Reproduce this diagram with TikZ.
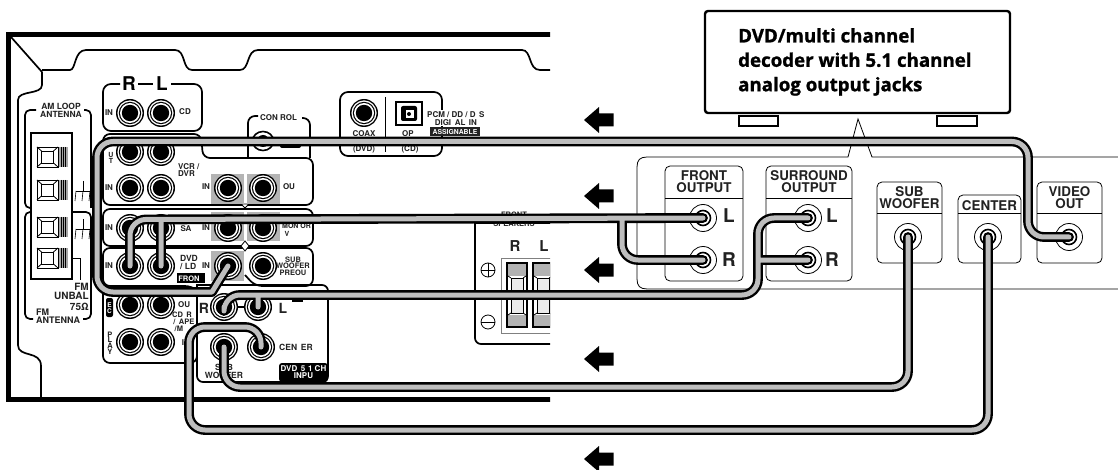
\documentclass[tikz,border=0pt]{standalone}
\usepackage{fontspec}
\setmainfont{TeX Gyre Heros}
\newfontfamily\titlefont[BoldFeatures={FakeBold=1.2}]{Open Sans}
\definecolor{cablegray}{HTML}{BEBEBE}
\definecolor{squaregray}{HTML}{B4B4B4}
\definecolor{labelgray}{HTML}{222222}
\tikzset{
 x=1pt,y=-1pt,
 panelline/.style={line width=1.7pt,black},
 thinline/.style={line width=.8pt,black},
 midline/.style={line width=1.1pt,black},
 lbl/.style={font=\bfseries\fontsize{8}{7.6}\selectfont,text=labelgray,inner sep=0pt,align=center},
 bigl/.style={font=\bfseries\fontsize{15}{15}\selectfont,text=labelgray,inner sep=0pt},
 outl/.style={font=\bfseries\fontsize{13.4}{12.2}\selectfont,text=labelgray,inner sep=0pt,align=center},
 invl/.style={font=\bfseries\fontsize{7.5}{7.5}\selectfont,text=white,inner sep=0pt,align=center},
 cableout/.style={line width=9.8pt,black,line cap=round,line join=round,rounded corners=16pt},
 cablein/.style={line width=5pt,cablegray,line cap=round,line join=round,rounded corners=16pt},
 arrowshape/.style={fill=black,draw=none},
}
% panel jack: name, x, y
\newcommand{\pjack}[3]{%
 \fill[black] (#2,#3) circle (14);
 \fill[white] (#2,#3) circle (12.6);
 \fill[black] (#2,#3) circle (11.2);
 \fill[white] (#2,#3) circle (10);
 \fill[black] (#2,#3) circle (8.2);
 \coordinate (#1) at (#2,#3);}
% source jack: name, x, y
\newcommand{\sjack}[3]{%
 \draw[thinline,fill=white] (#2,#3) circle (13.5);
 \draw[line width=1.6pt,black,fill=white] (#2,#3) circle (7.5);
 \fill[black] (#2,#3) circle (4);
 \coordinate (#1) at (#2,#3);}
\newcommand{\terminal}[2]{%
 \draw[thinline,fill=white] (#1,#2) rectangle (#1+21,#2+20);
 \draw[thinline,fill=white] (#1+4.5,#2+4) rectangle (#1+16.5,#2+16);
 \draw[thinline] (#1,#2)--(#1+4.5,#2+4) (#1+21,#2)--(#1+16.5,#2+4) (#1,#2+20)--(#1+4.5,#2+16) (#1+21,#2+20)--(#1+16.5,#2+16);
 \fill[gray!70] (#1+22,#2) rectangle (#1+31,#2+20);
 \foreach \sx in {24,26,28}{\draw[line width=.5pt,black] (#1+\sx,#2)--(#1+\sx,#2+20);}}
\newcommand{\ground}[2]{%
 \draw[line width=.6pt,black] (#1+7,#2-10)--(#1+7,#2) (#1,#2)--(#1+14,#2);
 \draw[line width=.6pt,black] (#1,#2)--(#1-1,#2+10) (#1+7,#2)--(#1+6,#2+10) (#1+14,#2)--(#1+13,#2+10);}
\newcommand{\flow}[1]{%
 \fill[arrowshape] (584,#1) -- (599,#1-13) -- (599,#1-6.5) -- (613.5,#1-6.5) -- (613.5,#1+6.5) -- (599,#1+6.5) -- (599,#1+13) -- cycle;}
\begin{document}
\begin{tikzpicture}
\useasboundingbox (0,0) rectangle (1118,470);
\fill[white] (0,0) rectangle (1118,470);

% ---------- receiver rear panel, cut off at x=550
\begin{scope}
\clip (0,0) rectangle (550,470);
\draw[line width=5.2pt,black] (560,34.6) -- (8.6,34.6) -- (8.6,399.4) -- (560,399.4);
\draw[panelline] (11,37) -- (42,72);
\draw[panelline] (42,70) -- (70,70) .. controls (76,70) and (74,50) .. (86,50) -- (175,50) .. controls (186,50) and (182,70) .. (192,70) -- (240,70) .. controls (250,70) and (246,50) .. (258,50) -- (522,50) .. controls (532,50) and (528,70) .. (540,70) -- (560,70);
\draw[panelline] (42,72) -- (42,85) .. controls (42,95) and (18,90) .. (18,100) -- (18,345) .. controls (18,358) and (41,350) .. (41,366) -- (41,398);

% antenna frames
\draw[panelline,rounded corners=5pt] (36,110) -- (25,110) -- (25,208) -- (36,208);
\draw[panelline,rounded corners=5pt] (84,110) -- (91,110) -- (91,208);
\draw[panelline,rounded corners=5pt] (33,319) -- (25,319) -- (25,212) -- (91,212) -- (91,319) -- (83,319);
\node[lbl,font=\bfseries\fontsize{8.5}{8}\selectfont] (amloop) at (61,110) {AM LOOP\\ANTENNA};
% antenna terminals
\draw[line width=1.5pt,black,fill=white] (31,133) rectangle (72,279);
\terminal{37}{147}
\terminal{37}{180}
\terminal{37}{217}
\terminal{37}{248}
\ground{76}{191}
\ground{76}{229}
\draw[thinline] (72,258) -- (80,258) -- (80,280);
\node[lbl,font=\bfseries\fontsize{10}{9.4}\selectfont,align=right,anchor=north east] (fmunbal) at (89,283) {FM\\UNBAL\\[1pt]75Ω};
\node[lbl,font=\bfseries\fontsize{9}{7.5}\selectfont,align=left,anchor=north west] (fmant) at (36,309) {FM\\ANTENNA};

% input boxes
\draw[panelline,rounded corners=8pt] (120,84) -- (103,84) -- (103,131) -- (202,131) -- (202,84) -- (171,84);
\draw[panelline] (138,84) -- (153,84);
\node[font=\bfseries\fontsize{19}{19}\selectfont,inner sep=0pt] (rtop) at (129,84) {R};
\node[font=\bfseries\fontsize{19}{19}\selectfont,inner sep=0pt] (ltop) at (162,84) {L};
\draw[panelline,rounded corners=7pt] (103,150) -- (103,134) -- (201,134) -- (203,158) -- (313,158) -- (313,205) -- (103,205) -- (103,150);
\draw[panelline,rounded corners=7pt] (248,158) -- (248,116) -- (258,116);
\draw[panelline,rounded corners=7pt] (302,118) -- (310,118) -- (310,158);
\node[lbl,anchor=west] (control) at (260,118) {CON ROL};
% control jack and bar, mostly under the video cable
\draw[line width=1.6pt,black,fill=white] (263,141) ellipse (10.5 and 9.5);
\fill[black] (263,141) circle (6);
\fill[black,rounded corners=2pt] (280,138) rectangle (301,148);
\draw[panelline,rounded corners=7pt] (103,228) -- (103,209) -- (313,209) -- (313,246) -- (103,246) -- cycle;
\draw[panelline,rounded corners=7pt,fill=white] (103,268) -- (103,248) -- (313,248) -- (313,286) -- (255,286) -- (245,275);
\draw[panelline,rounded corners=7pt] (103,268) -- (103,286) -- (192,286) -- (197,290);
\draw[thinline,fill=white] (245,241) -- (249,246) -- (245,251) -- (241,246) -- cycle;
\draw[thinline,fill=white] (245,208) -- (249,204) -- (241,204) -- cycle;
% gray squares
\fill[squaregray] (211,174) rectangle (244,204);
\fill[squaregray] (247,174) rectangle (280,204);
\fill[squaregray] (211,212) rectangle (244,241);
\fill[squaregray] (247,212) rectangle (280,241);
\fill[squaregray] (211,251) rectangle (244,281);

% digital box
\draw[panelline,rounded corners=8pt] (340,156) rectangle (442,92);
\draw[midline] (385.5,97) -- (385.5,152);
\pjack{jcoax}{364}{113}
\draw[line width=1.6pt,black,fill=white] (396,102) rectangle (422,125);
\fill[black,rounded corners=2pt] (401,106) rectangle (417,121);
\fill[white] (406,110) rectangle (414,118);
\fill[black] (409,114) circle (2);
\node[lbl,font=\bfseries\fontsize{8}{8}\selectfont] (coax) at (364,134) {COAX};
\node[lbl,font=\bfseries\fontsize{8}{8}\selectfont] (opt) at (408,134) {OP};
\node[lbl,font=\bfseries\fontsize{8}{8}\selectfont] (dvdc) at (364,149) {(DVD)};
\node[lbl,font=\bfseries\fontsize{8}{8}\selectfont] (cdc) at (410,149) {(CD)};
\fill[white] (427,110) rectangle (490,126);
\node[lbl,anchor=west,font=\bfseries\fontsize{8}{7.4}\selectfont,align=center] (pcm) at (427,118.5) {PCM / DD / D\, S\\DIGI\, AL\, IN};
\fill[labelgray] (430,127.5) rectangle (480,136);
\node[invl,font=\bfseries\fontsize{6.8}{7}\selectfont] (assign) at (455,132) {ASSIGNABLE};

% lower left input box
\draw[panelline,rounded corners=7pt] (103,292) -- (103,363) -- (197,363) -- (197,290);
% 5.1 input box
\draw[panelline,rounded corners=6pt] (197,328) -- (197,382) -- (328,382) -- (328,285) -- (255,285);
\draw[panelline] (197,290) -- (197,285) -- (255,285);
\fill[black,rounded corners=3pt] (279,363) rectangle (328,382);
\node[invl,font=\bfseries\fontsize{8}{7}\selectfont] (dvd51) at (303.5,372.5) {DVD\, 5\,\,1 CH\\INPU};

% panel jacks
\pjack{jcd-r}{130}{113}\pjack{jcd-l}{161}{113}
\pjack{jvo-r}{130}{152}\pjack{jvo-l}{161}{152}
\pjack{jvi-r}{130}{188}\pjack{jvi-l}{161}{188}
\pjack{jmi}{228}{188}\pjack{jmo}{263}{188}
\pjack{jsa-r}{130}{228}\pjack{jsa-l}{161}{228}
\pjack{jvi2}{228}{228}\pjack{jvo2}{263}{228}
\pjack{jdvd-r}{130}{266}\pjack{jdvd-l}{161}{266}
\pjack{jvid}{228}{266}\pjack{jsubp}{263}{266}
\pjack{jrec-r}{130}{305}\pjack{jrec-l}{161}{305}
\pjack{jply-r}{130}{342}\pjack{jply-l}{161}{342}
\pjack{ji-fr}{224}{307}\pjack{ji-fl}{258}{307}
\pjack{ji-sub}{224}{347}\pjack{ji-cen}{261}{347}
\draw[midline] (238,307) -- (244,307);
\draw[midline] (292,301) -- (302,301) -- (302,296);

% panel labels
\node[lbl] (t1) at (109,113) {IN};
\node[lbl] (t2) at (185,112) {CD};
\node[lbl,font=\bfseries\fontsize{7}{6}\selectfont] (t3) at (111,158) {U\\T};
\node[lbl,align=left,anchor=west] (t4) at (178,170) {VCR /\\DVR};
\node[lbl] (t5) at (109,188) {IN};
\node[lbl] (t6) at (206,187) {IN};
\node[lbl] (t7) at (289,187) {OU};
\node[lbl] (t8) at (109,228) {IN};
\node[lbl] (t9) at (186,229) {SA};
\node[lbl] (t10) at (206,228) {IN};
\node[lbl,font=\bfseries\fontsize{7}{7.5}\selectfont,align=left,anchor=west] (t11) at (282,230) {MON OR\\\,\,V};
\node[lbl] (t12) at (109,266) {IN};
\node[lbl,font=\bfseries\fontsize{8.5}{8}\selectfont,align=left,anchor=west] (t13) at (180,262) {DVD\\/ LD};
\node[lbl] (t14) at (206,266) {IN};
\fill[black] (177,273) rectangle (205,283);
\node[invl] (t15) at (189,279) {FRON};
\node[lbl,font=\bfseries\fontsize{7.5}{6.5}\selectfont] (t16) at (293,266) {SUB\\WOOFER\\PREOU};
\node[lbl,anchor=west] (t17) at (178,305) {OU};
\node[lbl,font=\bfseries\fontsize{7.5}{7}\selectfont,align=left,anchor=west] (t18) at (172,322) {CD\, R\\\,/\, APE\\\,\,/M};
\node[lbl] (t19) at (183,343) {I};
\fill[black,rounded corners=2pt] (106,298) rectangle (113,317);
\node[invl,font=\bfseries\fontsize{6.5}{6.5}\selectfont] (t20) at (109.5,308) {E\\C};
\node[lbl,font=\bfseries\fontsize{7.5}{5.6}\selectfont] (t21) at (110,343) {P\\L\\A\\Y};
\node[font=\bfseries\fontsize{14}{14}\selectfont,inner sep=0pt,text=labelgray] (t22) at (204,308) {R};
\node[font=\bfseries\fontsize{14}{14}\selectfont,inner sep=0pt,text=labelgray] (t23) at (283,308) {L};
\node[lbl,font=\bfseries\fontsize{8.5}{8}\selectfont] (t24) at (224,371) {SUB\\WOOFER};
\node[lbl,font=\bfseries\fontsize{8.5}{8}\selectfont] (t25) at (296,347) {CEN\, ER};

% front speakers
\draw[panelline,rounded corners=6pt] (475,223) -- (475,344) -- (560,344);
\draw[panelline] (475,223) -- (560,223);
\node[lbl,font=\bfseries\fontsize{7.5}{9}\selectfont] (spk) at (514,219) {FRONT\\SPEAKERS};
\node[bigl] (spr) at (515,246) {R};
\node[bigl] (spl) at (544,246) {L};
\draw[thinline,draw=gray,fill=white] (501,258) rectangle (560,333);
\foreach \tx in {506,532}{
 \fill[black] (\tx,262) rectangle (\tx+22,328);
 \fill[white] (\tx+2,264) rectangle (\tx+20,326);
 \fill[gray!60] (\tx+2,264) rectangle (\tx+20,276);
 \fill[gray!60] (\tx+2,315) rectangle (\tx+20,326);
 \draw[thinline,fill=black!8] (\tx+5,278) rectangle (\tx+17,313);
 \draw[thinline] (\tx+2,276)--(\tx+5,278) (\tx+20,276)--(\tx+17,278) (\tx+2,315)--(\tx+5,313) (\tx+20,315)--(\tx+17,313);
}
\draw[thinline] (488,270) circle (7);
\draw[thinline] (481,270)--(495,270) (488,263)--(488,277);
\draw[thinline] (488,322) circle (7);
\draw[thinline] (481,322)--(495,322);
\end{scope}

% ---------- decoder box
\node[draw=black,line width=2.4pt,rounded corners=3pt,minimum width=305pt,minimum height=102pt,inner sep=0pt] (decoder) at (857.5,62) {};
\node[anchor=north west,align=left,inner sep=0pt,font=\titlefont\bfseries\fontsize{18.7}{24.4}\selectfont] (dectext) at (738,28) {DVD/multi channel\\decoder with 5.1 channel\\analog output jacks};
\draw[line width=1.6pt,black,fill=white] (739,116) rectangle (778,126);
\draw[line width=1.6pt,black,fill=white] (937,116) rectangle (977,126);

% ---------- source back panel
\draw[thinline] (1118,157) -- (872,157) -- (858,119) -- (848,157) -- (647,157) .. controls (640,157) and (637,160) .. (637,167) -- (637,279) .. controls (637,286) and (640,289) .. (647,289) -- (1118,289);
\newcommand{\outbox}[5]{% x1 y1 x2 y2 ydiv
 \draw[thinline,rounded corners=5pt] (#1,#2) rectangle (#3,#4);
 \draw[thinline] (#1,#5) -- (#3,#5);}
\outbox{665}{166}{743}{281}{198}
\outbox{766}{166}{852}{281}{198}
\outbox{877}{182}{942}{263}{213}
\outbox{958}{195}{1021}{263}{213}
\outbox{1037}{182}{1102}{263}{213}
\node[outl] (l1) at (704,182) {FRONT\\OUTPUT};
\node[outl] (l2) at (809,182) {SURROUND\\OUTPUT};
\node[outl] (l3) at (909.5,198) {SUB\\WOOFER};
\node[outl] (l4) at (989.5,206) {CENTER};
\node[outl] (l5) at (1069.5,198) {VIDEO\\OUT};
\sjack{jfl}{703}{218}
\sjack{jfr}{703}{260}
\sjack{jsl}{808}{218}
\sjack{jsr}{808}{260}
\sjack{jsub}{908}{237}
\sjack{jcen}{988}{237}
\sjack{jvideo}{1069}{237}
\node[font=\bfseries\fontsize{19}{19}\selectfont,inner sep=0pt,text=labelgray] (fl) at (729,216) {L};
\node[font=\bfseries\fontsize{19}{19}\selectfont,inner sep=0pt,text=labelgray] (fr) at (729,260) {R};
\node[font=\bfseries\fontsize{19}{19}\selectfont,inner sep=0pt,text=labelgray] (sl) at (832,216) {L};
\node[font=\bfseries\fontsize{19}{19}\selectfont,inner sep=0pt,text=labelgray] (sr) at (832,260) {R};

% ---------- direction arrows
\flow{120}
\flow{196}
\flow{270}
\flow{359}
\flow{459}

% ---------- cables
\newcommand{\cable}[1]{\draw[cableout] #1; \draw[cablein] #1;}
\cable{(jvideo) -- (1028,237) -- (1028,141.5) -- (97,141.5) -- (97,292) -- (196,292) .. controls (212,292) and (218,282) .. (jvid)}
\cable{(jfl) -- (130,219.5) -- (jdvd-r) (161,219.5) -- (jdvd-l) (622,219.5) -- (622,260) -- (jfr)}
\cable{(jsl) -- (758,218) -- (758,295) -- (224,295) -- (ji-fr) (258,295) -- (ji-fl) (758,260) -- (jsr)}
\cable{(jsub) -- (908,387) -- (224,387) -- (ji-sub)}
\cable{(jcen) -- (988,430) -- (189,430) -- (189,327) -- (261,327) -- (ji-cen)}
\end{tikzpicture}
\end{document}
